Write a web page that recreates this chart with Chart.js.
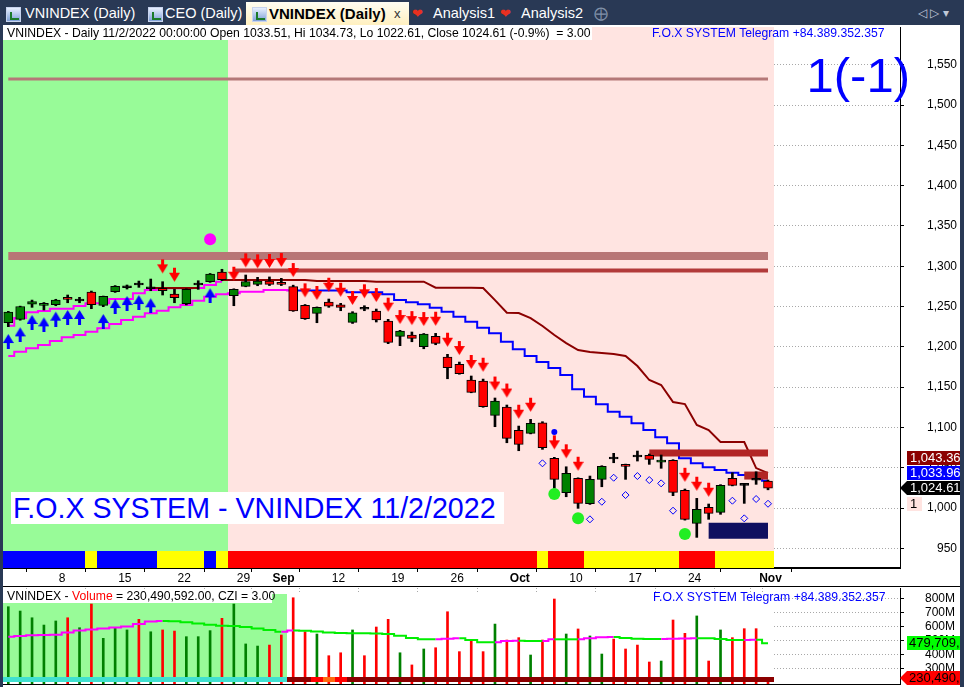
<!DOCTYPE html>
<html><head><meta charset="utf-8">
<script src="https://cdn.jsdelivr.net/npm/chart.js@4.4.0/dist/chart.umd.min.js"></script>
<style>
html,body{margin:0;padding:0;}
body{width:964px;height:687px;background:#293955;position:relative;overflow:hidden;font-family:Arial,"Liberation Sans",sans-serif;}
#panel{position:absolute;left:3px;top:25px;width:957px;height:662px;background:#fff;}
canvas{position:absolute;}
#main{left:3px;top:27px;}
#vol{left:3px;top:587px;}
#sep{position:absolute;left:3px;top:586px;width:957px;height:1px;background:#000;}
.tab{position:absolute;top:2px;height:23px;color:#fff;font-size:14.5px;line-height:23px;white-space:nowrap;}
.ico{position:absolute;top:5px;width:13px;height:13px;background:linear-gradient(#e8f0ff,#7fa0d8);border:1px solid #c8d4ee;}
.ico:after{content:"";position:absolute;left:3px;top:4px;width:7px;height:6px;border-left:2px solid #1a7a2a;border-bottom:2px solid #1a7a2a;}
.heart{position:absolute;top:4px;font-size:13px;line-height:15px;}
.txt{position:absolute;white-space:nowrap;font-size:12.2px;line-height:13px;}
</style></head>
<body>
<div id="panel"></div>
<div class="tab" style="left:0;width:245px;">
  <span class="ico" style="left:6px"></span><span style="position:absolute;left:25px">VNINDEX (Daily)</span>
  <span class="ico" style="left:148px"></span><span style="position:absolute;left:165px">CEO (Daily)</span>
</div>
<div class="tab" style="left:246px;width:163px;background:linear-gradient(#fffdf2,#fff0c0);color:#000;font-weight:bold;font-size:15px;">
  <span class="ico" style="left:6px"></span><span style="position:absolute;left:23px">VNINDEX (Daily)</span>
  <span style="position:absolute;left:148px;font-weight:normal;font-size:13px;color:#333">x</span>
</div>
<div class="tab" style="left:410px;width:200px;">
  <span class="heart" style="left:2px;color:#e83020">&#10084;</span><span style="position:absolute;left:23px">Analysis1</span>
  <span class="heart" style="left:90px;color:#e83020">&#10084;</span><span style="position:absolute;left:111px">Analysis2</span>
  <span style="position:absolute;left:184px;color:#8090a8;font-size:14px">&#10753;</span>
</div>
<div class="tab" style="left:918px;color:#c0c8d8;font-size:12px;">&#9665;&nbsp;&#9655;&nbsp;&#9662;</div>

<canvas id="main" width="957" height="559"></canvas>
<div id="sep"></div>
<canvas id="vol" width="957" height="100"></canvas>

<div class="txt" style="left:3px;top:27px;background:#fff;padding:0 2px 0 4px;color:#000;">VNINDEX - Daily 11/2/2022 00:00:00 Open 1033.51, Hi 1034.73, Lo 1022.61, Close 1024.61 (-0.9%)&nbsp;&nbsp;= 3.00</div>
<div class="txt" style="left:652px;top:27px;color:#0000ff;">F.O.X SYSTEM Telegram +84.389.352.357</div>
<div class="txt" style="right:54px;top:51px;color:#0000ff;font-size:49px;line-height:49px;">1(-1)</div>
<div class="txt" style="left:11px;top:492px;width:491px;height:32px;background:#fff;color:#0000ff;font-size:28.6px;line-height:32px;padding-left:2px;">F.O.X SYSTEM - VNINDEX 11/2/2022</div>
<div class="txt" style="left:3px;top:590px;width:265px;background:#fff;padding-left:4px;color:#000;">VNINDEX - <span style="color:#ff0000">Volume</span> = 230,490,592.00, CZI = 3.00</div>
<div class="txt" style="left:653px;top:591px;color:#0000ff;">F.O.X SYSTEM Telegram +84.389.352.357</div>

<script>
// ---------------- DATA ----------------
const dates = ['2022-08-02','2022-08-03','2022-08-04','2022-08-05','2022-08-08','2022-08-09','2022-08-10','2022-08-11','2022-08-12',
 '2022-08-15','2022-08-16','2022-08-17','2022-08-18','2022-08-19','2022-08-22','2022-08-23','2022-08-24','2022-08-25','2022-08-26',
 '2022-08-29','2022-08-30','2022-08-31','2022-09-05','2022-09-06','2022-09-07','2022-09-08','2022-09-09','2022-09-12','2022-09-13',
 '2022-09-14','2022-09-15','2022-09-16','2022-09-19','2022-09-20','2022-09-21','2022-09-22','2022-09-23','2022-09-26','2022-09-27',
 '2022-09-28','2022-09-29','2022-09-30','2022-10-03','2022-10-04','2022-10-05','2022-10-06','2022-10-07','2022-10-10','2022-10-11',
 '2022-10-12','2022-10-13','2022-10-14','2022-10-17','2022-10-18','2022-10-19','2022-10-20','2022-10-21','2022-10-24','2022-10-25',
 '2022-10-26','2022-10-27','2022-10-28','2022-10-31','2022-11-01','2022-11-02'];

const open  = [1230,1234,1253,1251.5,1252.2,1261.4,1258,1268,1251.5,1268.4,1274.6,1277.9,1273.3,1272.6,1265.5,1253.4,1277.9,1280.8,1292.8,1263.4,1275.1,1277.5,1281.6,1280,1274.6,1251.5,1241.6,1255.6,1252.2,1230.4,1247.8,1244.4,1232,1213,1214.6,1200.1,1213,1187.3,1178.3,1158.8,1157.6,1115,1125.3,1096.4,1092.7,1105.8,1061.7,1019,1036.8,1005.3,1035.6,1062,1054.2,1064.5,1065.4,1057,1059.2,1022,981,1000.9,994.7,1036.8,1029.4,1035.6,1033.51];
const high  = [1244,1250.5,1258,1255,1259,1264.3,1261.4,1269.2,1263,1276,1276.7,1281.6,1284.1,1280.8,1271.3,1272,1282,1291,1296.2,1272,1289.1,1286.2,1286.7,1285,1276.5,1252.5,1249.5,1259.3,1254,1243.6,1251,1246.9,1234.1,1220.5,1218.4,1216.5,1216.7,1190.7,1181.1,1163.8,1160,1136.5,1127.8,1101.7,1110,1107.1,1062.9,1051.2,1037.5,1039.7,1052.5,1067.9,1054.5,1070.7,1067,1065.8,1060,1023.6,1012,1005,1029,1043.8,1030,1045,1034.73];
const low   = [1225,1233,1249,1245.7,1251,1254.7,1254.7,1247.3,1249.8,1267.5,1271.7,1273.8,1269.6,1264.3,1254.7,1252,1271.3,1280,1282,1251,1274.5,1275.8,1276,1276,1244,1234,1229.9,1249,1244.8,1229,1244.8,1230.8,1203.9,1201.4,1206.3,1197.6,1202.6,1160.4,1166,1143,1125,1100.9,1081,1071.1,1092,1072.8,1024.4,1014,999.6,1004.5,1026.4,1056.2,1035.6,1058.3,1054.2,1049.3,1015.3,985,963.6,986,992.2,1027.5,1005.8,1029.4,1022.61];
const close = [1243,1250,1256,1254,1258.1,1258.9,1258.3,1252.2,1262.7,1275.1,1274.6,1278.1,1273.4,1269.6,1260.9,1271.3,1278,1290.3,1283.3,1271.3,1280.8,1281.6,1277.5,1277.5,1244.4,1234.9,1249,1250.3,1249,1242.3,1247.9,1233.3,1205.6,1219.6,1210.5,1215.9,1204.3,1174.1,1166.6,1143.5,1125.7,1132.8,1086.5,1079,1105.1,1074.8,1035.6,1043.1,1005.8,1035.6,1051.7,1062.1,1051.7,1064.6,1060.4,1059.6,1019.5,986,998.4,993.4,1028.2,1028.2,1029.4,1035.7,1024.61];

const upperLine = [1226.2,1235.7,1242.8,1244.4,1247.3,1247.3,1250.6,1254,1254,1259.3,1259.3,1266.4,1270.5,1272.6,1272.6,1272.6,1273,1276.7,1280.8];
const lowerLine = [1188.6,1193.9,1198.1,1202.2,1207.2,1211.8,1214.6,1218.7,1223,1228.3,1233.3,1237.3,1241.6,1244.8,1249,1251.9,1257.2,1262.2,1265.1,1266.4,1268.4,1268.4,1270.5,1270.5,
 1269.9,1269.9,1269.9,1269.9,1269.9,1267.6,1267.6,1267.6,1265.1,1258.1,1255.2,1252.7,1248.5,1243.6,1237.3,1231.1,1223.7,1216.7,1206.3,1196.9,1188.6,1181.1,1173.7,1165,1147.3,1138.1,1128.7,1119.5,1113.3,1105.1,1096.8,1087.7,1080.3,1061.7,1055.5,1050.5,1047.1,1043.8,1040.9,1038.5,1033.96];
const stopLine = [null,null,null,null,null,null,null,null,null,null,null,null,1273,1273,1273,1273,1273,null,
 1282.9,1282.9,1282.9,1282.9,1282.9,1282.9,1282.9,1282.9,1281.6,1281.6,1281.6,1281.6,1281.6,1280.8,1280.8,1280.8,1280.8,1280.8,
 1273.3,1273.3,1273.3,1273.3,1273,1258,1242.3,1242,1235.7,1225.8,1214.6,1204.7,1196,1193.5,1192.3,1191,1188.6,1176.2,1158.8,1152.6,1131.5,1129,1103,1096.8,1081.9,1081.9,1081.9,1049.6,1043.36];

const upArrowIdx = [0,1,2,3,4,5,6,8,9,10,11,12,17];
const upArrowTip = [1215.9,1224.2,1239.5,1236.6,1243.6,1245.7,1245.7,1240.7,1259.3,1263,1264.3,1260.2,1272.6];
const downArrowIdx = [13,14,19,20,21,22,23,24,25,26,27,28,29,30,31,32,33,34,35,36,37,38,39,40,41,42,43,44,46,47,48,57,58,59];
const downArrowTip = [1291.2,1280.8,1282,1298.6,1297.4,1297.8,1299,1286.6,1261.4,1258.1,1268.4,1262.2,1251.9,1260.2,1255.6,1243.6,1228.3,1227,1225.8,1226.2,1200.1,1189.8,1172.5,1169.1,1145.8,1137.1,1110.8,1119.5,1072.8,1061.7,1046.3,1032.6,1021.5,1014];
const magentaDotIdx = [17], magentaDotVal = [1333.4];
const greenDotIdx = [46,48,57], greenDotVal = [1017.4,987.2,967.7];
const blueDotIdx = [46], blueDotVal = [1094.3];
const diamondIdx = [45,49,50,51,52,53,54,55,56,61,62,63,64];
const diamondVal = [1055.5,986,1007.8,1037.6,1016.1,1039.7,1034.7,1030.6,996.7,1009.1,987.2,1011.2,1005.3];

const levelValue = [1532.3,1312.7,1294.7,1068.2,1040.3,971.8];
const levelFrom  = [0,0,19,54,62,59];
const levelTo    = [64,64,64,64,64,64];

const trendState = ['B','B','B','B','B','B','B','Y','B','B','B','B','B','Y','Y','Y','Y','B','Y',
 'R','R','R','R','R','R','R','R','R','R','R','R','R','R','R','R','R','R','R','R','R','R','R','R','R','R','Y',
 'R','R','R','Y','Y','Y','Y','Y','Y','Y','Y','R','R','R','Y','Y','Y','Y','Y'];
const mainUpZoneEnd = 18;
const volUpZoneEnd = 23;

const volume = [740,709,661,609,638,661,590,759,514,590,574,650,561,574,566,526,526,569,657,759,474,459,466,538,804,561,545,390,411,574,390,595,650,411,324,438,447,704,419,495,419,616,502,519,395,502,795,545,581,531,402,509,438,466,345,352,645,550,674,352,574,519,583,583,230.490592];
const volumeUp = [1,1,1,1,1,0,1,0,1,1,1,0,1,0,0,1,1,1,0,1,1,1,0,0,0,0,1,0,0,1,0,0,0,1,0,1,0,0,0,0,0,1,0,0,1,0,0,1,0,1,1,0,0,0,0,1,0,0,1,0,1,0,0,0,0];
const volumeMA = [525.7,530.7,535.7,537.9,540,555.7,570,577.1,584.3,591.4,598.6,616.4,634.3,637.9,636.4,628.6,620,611.4,604.3,602.1,595,584.3,573.6,561.4,570,568.6,562.9,555.7,552.1,550,550,548.6,545,532.9,516.4,507.1,507.1,511.4,514.3,502.1,485.7,485.7,495,497.1,495,495,507.1,507.1,507.1,514.3,521.4,523.6,516.4,511.4,509.3,509.3,510.7,512.9,514.3,514.3,509.3,502.1,502.1,504.3,479.709629];
const volStripe = ['C','C','C','C','C','C','C','C','C','C','C','C','C','C','C','C','C','C','C','C','C','C','C','C',
 'D','D','R','O','R','D','D','D','D','D','D','D','D','D','D','D','D','D','D','D','D','D','D','D','D','D','D','D','D','D','D','D','D','D','D','D','D','D','D','D','D'];

const xTickIdx  = [4,9,14,19,22,27,32,37,42,47,52,57,63];
const xTickText = ['8','15','22','29','Sep','12','19','26','Oct','10','17','24','Nov'];
const monthTickIdx = [22,42,63];
const volGridIdx = [4,9,14,19,22,27,32,37,42,47,52,57,62,63];
const yTicks = [950,1000,1050,1100,1150,1200,1250,1300,1350,1400,1450,1500,1550];
const volTicksM = [300,400,500,600,700,800];

// ---------------- AXIS RANGES ----------------
const N = dates.length;
const X_MIN = -0.4465, X_MAX = 75.12;
const Y_MIN = 925.6, Y_MAX = 1596.8;
const CB_LO = 926, CB_HI = 946.6;
const V_MIN = 187.9, V_MAX = 873.6;
const VZ_TOP = 830.7, VZ_BOT = 237.9, VS_BOT = 202.2;
const FONT = 'Arial, "Liberation Sans", sans-serif';

// ---------------- HELPERS ----------------
const GREEN = '#008000', RED = '#ff0000';
const candleColor = open.map((o,i)=> close[i]-o > 0.5 ? GREEN : (o-close[i] > 0.5 ? RED : '#000'));
const bodyData = open.map((o,i)=>{
  const c = close[i];
  if (Math.abs(c-o) <= 0.5) { const m=(o+c)/2; return {x:i, y:[m-1.2, m+1.2]}; }
  return {x:i, y:[Math.min(o,c), Math.max(o,c)]};
});
const wickData = open.map((o,i)=>({x:i, y:[low[i], high[i]]}));
const pts = (ix, vals) => ix.map((i,k)=>({x:i, y:vals[k]}));
const series = (arr) => arr.map((v,i)=>({x:i, y:v}));
const noPad = s => { s.paddingTop = 0; s.paddingBottom = 0; s.paddingLeft = 0; s.paddingRight = 0; };

function arrowImg(color, up){
  const c=document.createElement('canvas'); c.width=11; c.height=30;
  const g=c.getContext('2d'); g.fillStyle=color;
  if(!up){ g.fillRect(4,1,3,6); g.beginPath(); g.moveTo(0,6); g.lineTo(11,6); g.lineTo(5.5,15); g.closePath(); g.fill(); }
  else { g.fillRect(4,24,3,6); g.beginPath(); g.moveTo(0,24); g.lineTo(11,24); g.lineTo(5.5,15); g.closePath(); g.fill(); }
  return c;
}
const downArrow = arrowImg('#ff0000', false);
const upArrow = arrowImg('#0000ff', true);

const levelStyle = [
  {c:'#b57878', w:3}, {c:'#b87676', w:8}, {c:'#b23a3a', w:4},
  {c:'#b22525', w:7}, {c:'#b22525', w:8}, {c:'#0f0f60', w:16}
];
const stateColor = {B:'#0000ff', Y:'#ffff00', R:'#ff0000'};
const stripeColor = {C:'#40e0d0', D:'#8b0000', R:'#ff0000', O:'#ff6a10'};

// ---------------- PRICE CHART ----------------
const mainDecor = {
  id:'mainDecor',
  beforeDatasetsDraw(chart){
    const {ctx, chartArea:a, scales:{x,y}} = chart;
    ctx.save();
    ctx.beginPath(); ctx.rect(a.left,a.top,a.right-a.left,a.bottom-a.top); ctx.clip();
    const xs = Math.round(x.getPixelForValue(mainUpZoneEnd+0.5));
    const xe = Math.round(x.getPixelForValue(N-0.5));
    ctx.fillStyle='#98fb98'; ctx.fillRect(a.left,a.top,xs-a.left,a.bottom-a.top);
    ctx.fillStyle='#ffe4e1'; ctx.fillRect(xs,a.top,xe-xs,a.bottom-a.top);
    const yt = Math.round(y.getPixelForValue(CB_HI)), yb = Math.round(y.getPixelForValue(CB_LO));
    for(let i=0;i<N;i++){
      const x0=Math.round(x.getPixelForValue(i-0.5)), x1=Math.round(x.getPixelForValue(i+0.5));
      ctx.fillStyle=stateColor[trendState[i]]; ctx.fillRect(x0,yt,x1-x0,yb-yt);
    }
    ctx.restore();
  },
  afterDraw(chart){
    const {ctx, chartArea:a, scales:{y}} = chart;
    const fmt = v => v.toLocaleString('en-US',{minimumFractionDigits:2, maximumFractionDigits:2});
    const yc = Math.round(y.getPixelForValue(close[N-1]));
    const tags = [
      {v:stopLine[N-1], bg:'#8b0000', dy:-30},
      {v:lowerLine[N-1], bg:'#0000ff', dy:-15},
      {v:close[N-1], bg:'#000000', dy:0, arrow:true}
    ];
    ctx.save();
    ctx.font = '13px '+FONT; ctx.textBaseline='middle'; ctx.textAlign='left';
    const x0 = a.right+7;
    tags.forEach(t=>{
      const cy = yc + t.dy;
      ctx.fillStyle=t.bg; ctx.fillRect(x0, cy-7, 60, 14);
      if(t.arrow){ ctx.beginPath(); ctx.moveTo(a.right, cy); ctx.lineTo(x0, cy-7); ctx.lineTo(x0, cy+7); ctx.closePath(); ctx.fill(); }
      ctx.fillStyle='#fff'; ctx.fillText(fmt(t.v), x0+3, cy+0.5);
    });
    ctx.fillStyle='#ffe4e1'; ctx.fillRect(x0, yc+9, 15, 14);
    ctx.fillStyle='#000'; ctx.fillText('1', x0+3, yc+16.5);
    ctx.restore();
  }
};

const levelSets = levelValue.map((v,k)=>({
  type:'line', data:[{x:levelFrom[k], y:v},{x:levelTo[k], y:v}],
  borderColor:levelStyle[k].c, borderWidth:levelStyle[k].w, borderCapStyle:'butt',
  pointRadius:0, order:20
}));

new Chart(document.getElementById('main'), {
  type:'bar',
  data:{ datasets:[
    {type:'line', data:series(upperLine), stepped:'middle', borderColor:'#ff00ff', borderWidth:2, pointRadius:0, order:32},
    {type:'line', data:series(lowerLine), stepped:'middle', borderWidth:2, pointRadius:0, order:31,
      borderColor:'#ff00ff', segment:{borderColor: c => c.p0DataIndex >= 24 ? '#0000ff' : '#ff00ff'}},
    {type:'line', data:series(stopLine), borderColor:'#8b0000', borderWidth:2, pointRadius:0, order:30, spanGaps:false},
    ...levelSets,
    {type:'bar', data:wickData, backgroundColor:'#000', barThickness:2, grouped:false, order:12},
    {type:'bar', data:bodyData, backgroundColor:candleColor, borderColor:'#000', borderWidth:1, borderSkipped:false, barThickness:9, grouped:false, order:11},
    {type:'scatter', data:pts(upArrowIdx, upArrowTip), pointStyle:upArrow, pointRadius:5, order:5},
    {type:'scatter', data:pts(downArrowIdx, downArrowTip), pointStyle:downArrow, pointRadius:5, order:4},
    {type:'scatter', data:pts(magentaDotIdx, magentaDotVal), pointStyle:'circle', pointRadius:6, backgroundColor:'#ff00ff', borderWidth:0, order:3},
    {type:'scatter', data:pts(greenDotIdx, greenDotVal), pointStyle:'circle', pointRadius:6, backgroundColor:'#22ee22', borderWidth:0, order:3},
    {type:'scatter', data:pts(blueDotIdx, blueDotVal), pointStyle:'circle', pointRadius:3, backgroundColor:'#0000ff', borderWidth:0, order:3},
    {type:'scatter', data:pts(diamondIdx, diamondVal), pointStyle:'rectRot', pointRadius:3.5, backgroundColor:'rgba(0,0,0,0)', borderColor:'#0000ff', borderWidth:1, order:3}
  ]},
  options:{
    responsive:false, animation:false, devicePixelRatio:1,
    layout:{padding:{left:0, top:0, bottom:0, right:3}, autoPadding:false},
    events:[],
    plugins:{legend:{display:false}, tooltip:{enabled:false}},
    scales:{
      x:{type:'linear', min:X_MIN, max:X_MAX, offset:false,
        afterBuildTicks: s => { s.ticks = xTickIdx.map(v=>({value:v})); },
        afterFit: s => { s.height = 18; noPad(s); },
        ticks:{autoSkip:false, maxRotation:0, minRotation:0, align:'start', padding:-1, labelOffset:3, color:'#000',
          font: c => ({family:FONT, size:12, weight: (c.tick && monthTickIdx.includes(c.tick.value)) ? 'bold':'normal'}),
          callback: v => xTickText[xTickIdx.indexOf(v)] },
        grid:{drawOnChartArea:false, drawTicks:true, tickLength:4, color:'#000'},
        border:{display:true, color:'#000', width:2}
      },
      y:{type:'linear', position:'right', min:Y_MIN, max:Y_MAX,
        afterBuildTicks: s => { s.ticks = yTicks.map(v=>({value:v})); },
        afterFit: s => { s.width = 57; noPad(s); },
        ticks:{autoSkip:false, crossAlign:'far', padding:20, color:'#000', font:{family:FONT, size:12},
          callback: v => v.toLocaleString('en-US')},
        grid:{color:'#a8a8a8', lineWidth:1, drawTicks:true, tickLength:4, tickColor:'#000'},
        border:{display:true, color:'#000', width:1, dash:[1,2]}
      }
    }
  },
  plugins:[mainDecor]
});

// ---------------- VOLUME CHART ----------------
const volDecor = {
  id:'volDecor',
  beforeDatasetsDraw(chart){
    const {ctx, chartArea:a, scales:{x,y}} = chart;
    ctx.save();
    const xs = Math.round(x.getPixelForValue(volUpZoneEnd+0.5));
    const xe = Math.round(x.getPixelForValue(N-0.5));
    const yt = Math.round(y.getPixelForValue(VZ_TOP*1e6)), yb = Math.round(y.getPixelForValue(VZ_BOT*1e6));
    ctx.fillStyle='#98fb98'; ctx.fillRect(a.left, yt, xs-a.left, yb-yt);
    ctx.fillStyle='#ffffff'; ctx.fillRect(xs, yt, xe-xs, yb-yt);
    ctx.restore();
  },
  afterDatasetsDraw(chart){
    const {ctx, scales:{x,y}, chartArea:a} = chart;
    ctx.save();
    const yt = Math.round(y.getPixelForValue(VZ_BOT*1e6)), yb = Math.round(y.getPixelForValue(VS_BOT*1e6));
    for(let i=0;i<N;i++){
      const x0=Math.max(a.left,Math.round(x.getPixelForValue(i-0.5))), x1=Math.round(x.getPixelForValue(i+0.5));
      ctx.fillStyle=stripeColor[volStripe[i]]; ctx.fillRect(x0,yt,x1-x0,yb-yt);
    }
    ctx.restore();
  },
  afterDraw(chart){
    const {ctx, chartArea:a, scales:{y}} = chart;
    const fmt = v => Math.round(v*1e6).toLocaleString('en-US');
    ctx.save();
    ctx.font='13px '+FONT; ctx.textBaseline='middle'; ctx.textAlign='left';
    const x0=a.right+7;
    let cy = Math.round(y.getPixelForValue(volumeMA[N-1]*1e6));
    ctx.fillStyle='#00ff00'; ctx.fillRect(x0, cy-7, 60, 14);
    ctx.fillStyle='#000'; ctx.fillText(fmt(volumeMA[N-1]), x0+2, cy+0.5);
    cy = Math.round(y.getPixelForValue(volume[N-1]*1e6));
    ctx.fillStyle='#ff0000'; ctx.fillRect(x0, cy-7, 60, 14);
    ctx.beginPath(); ctx.moveTo(a.right, cy); ctx.lineTo(x0, cy-7); ctx.lineTo(x0, cy+7); ctx.closePath(); ctx.fill();
    ctx.fillStyle='#000'; ctx.fillText(fmt(volume[N-1]), x0+2, cy+0.5);
    ctx.restore();
  }
};

new Chart(document.getElementById('vol'), {
  type:'bar',
  data:{ datasets:[
    {type:'line', data:volumeMA.map((v,i)=>({x:i, y:v*1e6})), stepped:'middle', borderWidth:2, pointRadius:0, order:1,
      borderColor:'#00ee00', segment:{borderColor: c => c.p1.parsed.y > c.p0.parsed.y ? '#ff00ff' : '#00ee00'}},
    {type:'bar', data:volume.map((v,i)=>({x:i, y:v*1e6})), backgroundColor:volumeUp.map(u=>u?GREEN:RED), barThickness:2, grouped:false, order:2}
  ]},
  options:{
    responsive:false, animation:false, devicePixelRatio:1,
    layout:{padding:{top:1, right:5, left:0, bottom:0}, autoPadding:false},
    events:[],
    plugins:{legend:{display:false}, tooltip:{enabled:false}},
    scales:{
      x:{type:'linear', min:X_MIN, max:X_MAX, offset:false,
        afterBuildTicks: s => { s.ticks = volGridIdx.map(v=>({value:v})); },
        afterFit: s => { s.height = 3; noPad(s); },
        ticks:{display:false, autoSkip:false},
        grid:{drawOnChartArea:true, drawTicks:false, color:'#a8a8a8'},
        border:{display:true, color:'#000', width:1, dash:[1,2]}
      },
      y:{type:'linear', position:'right', min:V_MIN*1e6, max:V_MAX*1e6,
        afterBuildTicks: s => { s.ticks = volTicksM.map(v=>({value:v*1e6})); },
        afterFit: s => { s.width = 55; noPad(s); },
        ticks:{autoSkip:false, crossAlign:'far', padding:17, color:'#000', font:{family:FONT, size:12},
          callback: v => Math.round(v/1e6)+'M'},
        grid:{color:'#a8a8a8', lineWidth:1, drawTicks:true, tickLength:4, tickColor:'#000'},
        border:{display:true, color:'#000', width:1, dash:[1,2]}
      }
    }
  },
  plugins:[volDecor]
});
</script>
</body></html>
